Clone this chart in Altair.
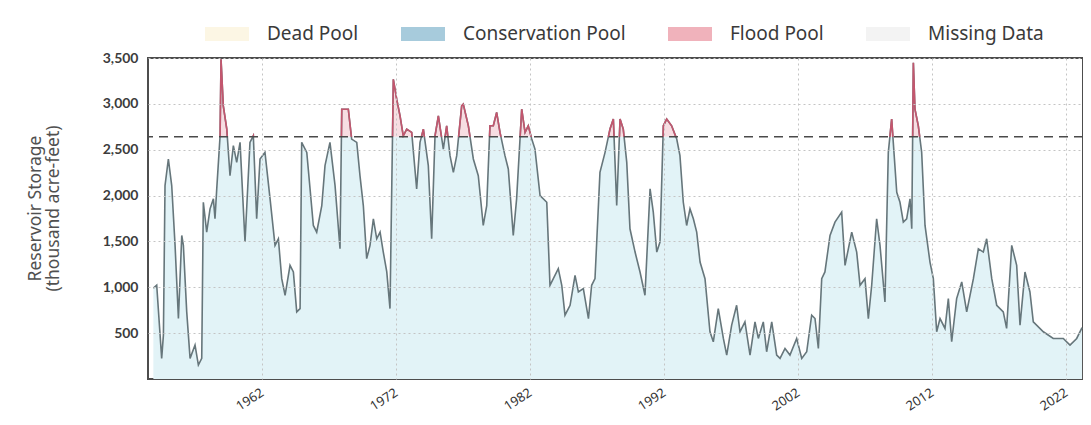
import altair as alt
import pandas as pd

# ---- data ----
years = [1953.89, 1954.14, 1954.51, 1954.64, 1954.76, 1955.01, 1955.26, 1955.51, 1955.76, 1956.01,
         1956.13, 1956.38, 1956.63, 1957.00, 1957.25, 1957.50, 1957.62, 1957.87, 1958.12, 1958.37,
         1958.49, 1958.62, 1958.87, 1958.94, 1959.11, 1959.37, 1959.61, 1959.86, 1960.11, 1960.36,
         1960.73, 1961.10, 1961.35, 1961.60, 1961.85, 1962.22, 1962.60, 1962.97, 1963.22, 1963.47,
         1963.72, 1964.09, 1964.34, 1964.59, 1964.84, 1964.96, 1965.34, 1965.83, 1966.08, 1966.46,
         1966.70, 1967.07, 1967.45, 1967.82, 1967.95, 1968.44, 1968.69, 1969.07, 1969.31, 1969.56,
         1969.81, 1970.06, 1970.31, 1970.56, 1970.81, 1971.05, 1971.31, 1971.55, 1971.80, 1972.05,
         1972.30, 1972.54, 1972.80, 1973.17, 1973.54, 1973.79, 1974.04, 1974.41, 1974.66, 1974.91,
         1975.16, 1975.53, 1975.78, 1976.03, 1976.28, 1976.53, 1976.90, 1977.02, 1977.40, 1977.77,
         1978.14, 1978.51, 1978.77, 1979.01, 1979.26, 1979.51, 1979.76, 1980.13, 1980.38, 1980.75,
         1981.00, 1981.38, 1981.63, 1981.87, 1982.13, 1982.37, 1982.75, 1983.25, 1983.49, 1983.74,
         1984.11, 1984.37, 1984.61, 1984.99, 1985.36, 1985.61, 1985.98, 1986.36, 1986.60, 1986.85,
         1987.22, 1987.60, 1987.97, 1988.22, 1988.47, 1988.72, 1988.96, 1989.22, 1989.46, 1989.84,
         1990.21, 1990.58, 1990.96, 1991.20, 1991.46, 1991.70, 1991.95, 1992.20, 1992.57, 1992.95,
         1993.19, 1993.44, 1993.69, 1993.94, 1994.19, 1994.44, 1994.69, 1995.06, 1995.43, 1995.68,
         1996.05, 1996.43, 1996.68, 1997.05, 1997.42, 1997.67, 1998.04, 1998.42, 1998.79, 1999.04,
         1999.41, 1999.66, 2000.04, 2000.41, 2000.66, 2001.03, 2001.40, 2001.90, 2002.28, 2002.65,
         2003.02, 2003.27, 2003.52, 2003.77, 2004.01, 2004.39, 2004.76, 2005.26, 2005.51, 2006.01,
         2006.38, 2006.63, 2007.00, 2007.25, 2007.50, 2007.87, 2008.12, 2008.49, 2008.74, 2008.99,
         2009.37, 2009.61, 2009.86, 2010.11, 2010.36, 2010.49, 2010.61, 2010.73, 2010.98, 2011.23,
         2011.48, 2011.85, 2012.10, 2012.35, 2012.60, 2012.97, 2013.22, 2013.47, 2013.84, 2014.22,
         2014.59, 2015.09, 2015.46, 2015.83, 2016.08, 2016.46, 2016.83, 2017.32, 2017.57, 2017.95,
         2018.32, 2018.57, 2018.94, 2019.31, 2019.56, 2020.31, 2021.05, 2021.80, 2022.30, 2022.80,
         2023.20]
storage = [990, 1022, 225, 478, 2109, 2399, 2109, 1457, 659, 1565,
           1457, 732, 225, 370, 152, 225, 1927, 1601, 1855, 1964,
           1747, 2073, 2652, 3486, 2978, 2725, 2217, 2544, 2362, 2580,
           1493, 2580, 2652, 1747, 2399, 2471, 1964, 1457, 1529, 1094,
           913, 1239, 1167, 732, 768, 2580, 2471, 1674, 1601, 1891,
           2326, 2580, 2109, 1420, 2942, 2942, 2616, 2580, 2217, 1891,
           1312, 1457, 1747, 1529, 1601, 1384, 1167, 768, 3268, 3051,
           2870, 2652, 2725, 2689, 2073, 2580, 2725, 2326, 1529, 2652,
           2870, 2507, 2761, 2435, 2253, 2435, 2978, 2997, 2761, 2399,
           2217, 1674, 1891, 2761, 2761, 2906, 2689, 2435, 2290, 1565,
           1964, 2942, 2689, 2761, 2616, 2507, 2000, 1927, 1022, 1094,
           1203, 1022, 696, 804, 1130, 949, 985, 659, 1022, 1094,
           2253, 2471, 2725, 2834, 1891, 2834, 2725, 2362, 1638, 1384,
           1167, 913, 2073, 1819, 1384, 1493, 2761, 2834, 2761, 2616,
           2435, 1927, 1674, 1855, 1747, 1601, 1275, 1094, 515, 406,
           768, 442, 261, 587, 804, 515, 623, 261, 623, 442,
           623, 297, 623, 261, 225, 333, 261, 442, 225, 297,
           696, 659, 333, 1094, 1167, 1565, 1710, 1819, 1239, 1601,
           1384, 1022, 1094, 659, 1022, 1747, 1457, 840, 2471, 2834,
           2036, 1927, 1710, 1747, 1964, 1638, 3449, 2942, 2761, 2471,
           1674, 1275, 1094, 515, 659, 551, 877, 406, 877, 1058,
           732, 1094, 1420, 1384, 1529, 1094, 804, 732, 551, 1457,
           1239, 587, 1167, 949, 623, 515, 442, 442, 370, 442,
           560]

flood_level = 2640
legend_items = ["Dead Pool", "Conservation Pool", "Flood Pool", "Missing Data"]
legend_colors = ["#fcf6e4", "#a7cbdc", "#f0b2bb", "#f3f3f3"]
x_ticks = [1962, 1972, 1982, 1992, 2002, 2012, 2022]
y_ticks = [500, 1000, 1500, 2000, 2500, 3000, 3500]

# ---- build tables (insert threshold crossings so pools split exactly) ----
rows = []
for i in range(len(years)):
    t, v = years[i], storage[i]
    if i > 0:
        t0, v0 = years[i - 1], storage[i - 1]
        if (v0 - flood_level) * (v - flood_level) < 0:
            tc = t0 + (flood_level - v0) / (v - v0) * (t - t0)
            rows.append((tc, float(flood_level)))
    rows.append((t, float(v)))
df = pd.DataFrame(rows, columns=["year", "value"])
df["cons"] = df["value"].clip(upper=flood_level)
df["flood"] = df["value"].clip(lower=flood_level)
df["thr"] = flood_level

seg_rows = []
seg = 0
inside = False
for t, v in rows:
    if v >= flood_level:
        if not inside:
            seg += 1
            inside = True
        seg_rows.append((t, v, seg))
    else:
        inside = False
red = pd.DataFrame(seg_rows, columns=["year", "value", "seg"])
red = red.groupby("seg").filter(lambda g: g["value"].max() > flood_level + 1)

x_scale = alt.Scale(domain=[1953.49, 2023.27], nice=False, zero=False)
y_scale = alt.Scale(domain=[0, 3500], nice=False)

x_axis = alt.Axis(values=x_ticks, format="d", labelAngle=-33, labelAlign="right",
                  labelBaseline="middle", labelFont="Noto Sans", labelFontSize=13,
                  labelColor="#333333", labelPadding=12, ticks=False, domain=False,
                  grid=True, gridColor="#c4c4c4", gridDash=[2, 3], gridWidth=1,
                  title=None, zindex=1)
y_axis = alt.Axis(values=y_ticks, format=",d", labelFont="Lato", labelFontSize=14,
                  labelFontWeight="bold", labelColor="#3c3c3c", labelPadding=10,
                  ticks=False, domain=False, grid=True, gridColor="#c4c4c4",
                  gridDash=[2, 3], gridWidth=1,
                  title=["Reservoir Storage", "(thousand acre-feet)"],
                  titleFont="Noto Sans", titleFontSize=17.5, titleFontWeight="normal",
                  titleColor="#505050", titlePadding=40, titleLineHeight=18,
                  titleY=150, zindex=1)

base = alt.Chart(df)

cons_area = base.mark_area(color="#e2f3f7", opacity=1, interpolate="linear").encode(
    x=alt.X("year:Q", scale=x_scale, axis=x_axis),
    y=alt.Y("cons:Q", scale=y_scale, axis=y_axis),
)
flood_area = base.mark_area(color="#f7dde2", opacity=1).encode(
    x="year:Q",
    y="flood:Q",
    y2="thr:Q",
)
line = base.mark_line(color="#66767b", strokeWidth=1.6).encode(
    x="year:Q",
    y="value:Q",
)
red_line = alt.Chart(red).mark_line(color="#c4566e", strokeWidth=1.6).encode(
    x="year:Q",
    y="value:Q",
    detail="seg:N",
)
rule = alt.Chart(pd.DataFrame({"thr": [flood_level]})).mark_rule(
    color="#4a4a4a", strokeWidth=1.5, strokeDash=[9, 6]
).encode(y="thr:Q")

legend_df = pd.DataFrame({"pool": legend_items})
legend_layer = alt.Chart(legend_df).mark_square(opacity=0, size=10).encode(
    color=alt.Color(
        "pool:N",
        scale=alt.Scale(domain=legend_items, range=legend_colors),
        sort=legend_items,
        legend=alt.Legend(
            title=None, orient="none", legendX=57, legendY=-46,
            direction="horizontal", symbolType="M-1,-0.32H1V0.32H-1Z",
            symbolSize=1936, symbolStrokeWidth=0, symbolOpacity=1,
            labelFont="Noto Sans", labelFontSize=19, labelColor="#3a3a3a",
            labelOffset=18, columnPadding=42, labelLimit=400,
        ),
    )
)

chart = alt.layer(cons_area, flood_area, line, red_line, rule, legend_layer).properties(
    width=935, height=321,
    autosize=alt.AutoSizeParams(type="none"),
    padding={"left": 140, "top": 50, "right": 0, "bottom": 38},
    background="white",
).configure_view(stroke="#4d4d4d", strokeWidth=2)

chart.save("out.html", embed_options={"renderer": "svg", "actions": False})
